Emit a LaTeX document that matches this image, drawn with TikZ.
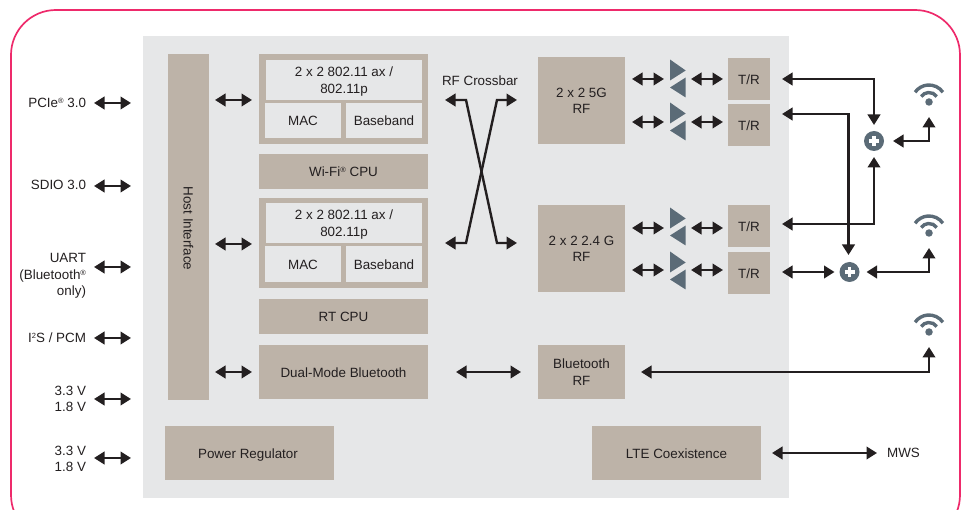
\documentclass[tikz,border=0pt]{standalone}
\usepackage{fontspec}
\setmainfont{Liberation Sans}
\usetikzlibrary{arrows.meta,calc}
\definecolor{bggray}{HTML}{E6E7E8}
\definecolor{tan}{HTML}{BDB3A8}
\definecolor{slate}{HTML}{5B6B77}
\definecolor{ink}{HTML}{231F20}
\definecolor{pinkline}{HTML}{EE2A6B}
\newcommand{\bx}[7][tanbox]{\node[#1,minimum width={(#5-#3)*1pt},minimum height={(#6-#4)*1pt}] (#2) at ({(#3+#5)/2},{(#4+#6)/2}) {\raisebox{-5.5pt}[0pt][0pt]{\begin{tabular}{@{}c@{}}#7\end{tabular}}};}
\newcommand{\mysup}[1]{\raisebox{4pt}{\fontsize{7.5}{8}\selectfont #1}}
\newcommand{\amp}[1]{%
  \fill[slate] (670,#1-19.5)--(685.7,#1-8.5)--(670,#1+1.5)--cycle;
  \fill[slate] (685.7,#1-1.5)--(670,#1+8.5)--(685.7,#1+18.5)--cycle;}
\newcommand{\wifi}[2]{%
  \node[dotnode] (#2) at (929,#1) {};
  \draw[wave] (929,#1) ++(-35:17) arc[start angle=-35,end angle=-145,radius=17];
  \draw[wave] (929,#1) ++(-35:9.5) arc[start angle=-35,end angle=-145,radius=9.5];}
\newcommand{\plusnode}[3]{%
  \node[sumnode] (#1) at (#2,#3) {};
  \draw[white,line width=3.6pt] (#2-5,#3)--(#2+5,#3) (#2,#3-5)--(#2,#3+5);}
\tikzset{
  base/.style={inner sep=0pt,outer sep=0pt,align=center,text=ink,font=\fontsize{13.4}{16.5}\selectfont},
  tanbox/.style={base,fill=tan},
  innerbox/.style={base,fill=bggray},
  lab/.style={base,anchor=east,align=right},
  plainlab/.style={base},
  dbl/.style={line width=2.4pt,draw=ink,{Triangle[length=10.5pt,width=12.5pt]}-{Triangle[length=10.5pt,width=12.5pt]}},
  wave/.style={draw=slate,line width=3.4pt},
  dotnode/.style={circle,fill=slate,minimum size=7.5pt,inner sep=0pt,outer sep=0pt},
  sumnode/.style={circle,fill=slate,minimum size=20pt,inner sep=0pt,outer sep=0pt},
}
\begin{document}
\begin{tikzpicture}[x=1pt,y=-1pt]
\useasboundingbox (0,0) rectangle (962,510);
\clip (0,0) rectangle (962,510);
\draw[pinkline,line width=1.7pt,rounded corners=45pt] (11,10) rectangle (960,540);
\fill[bggray] (143,36) rectangle (789,498);
% blocks
\node[tanbox,minimum width=41pt,minimum height=346pt] (hostif) at (188.5,227) {\rotatebox{-90}{\hspace{3pt}Host Interface}};
\bx{blockA}{259}{54}{428}{144}{}
\bx[innerbox]{phyA}{266}{60}{422}{100}{2 x 2 802.11 ax /\\802.11p}
\bx[innerbox]{macA}{265}{103}{341}{138}{MAC}
\bx[innerbox]{bbA}{346}{103}{422}{138}{Baseband}
\bx{wifi}{259}{154}{428}{189}{Wi-Fi\mysup{®} CPU}
\bx{blockB}{259}{198}{428}{288}{}
\bx[innerbox]{phyB}{266}{203}{422}{243}{2 x 2 802.11 ax /\\802.11p}
\bx[innerbox]{macB}{265}{246}{341}{282}{MAC}
\bx[innerbox]{bbB}{346}{246}{422}{282}{Baseband}
\bx{rt}{259}{299}{428}{334}{RT CPU}
\bx{dual}{259}{345}{428}{399}{Dual-Mode Bluetooth}
\bx{power}{165}{426}{334}{480}{\hspace{-3pt}Power Regulator}
\bx{rfA}{538}{57}{625}{144}{2 x 2 5G\\RF}
\bx{rfB}{538}{205}{625}{292}{2 x 2 2.4 G\\RF}
\bx{rfC}{538}{345}{625}{399}{Bluetooth\\RF}
\bx{lte}{592}{426}{761}{480}{LTE Coexistence}
\bx{trA}{728}{58}{770}{100}{T/R}
\bx{trB}{728}{104}{770}{146}{T/R}
\bx{trC}{728}{205}{770}{247}{T/R}
\bx{trD}{728}{252}{770}{294}{T/R}
% amplifiers
\amp{79}\amp{122}\amp{227}\amp{271}
% labels
\node[lab] (lpcie) at (86,103) {PCIe\mysup{®} 3.0};
\node[lab] (lsdio) at (86,185) {SDIO 3.0};
\node[lab] (luart) at (86,276) {UART\\(Bluetooth\mysup{®}\\only)};
\node[lab] (li2s) at (86,338) {I\mysup{2}S / PCM};
\node[lab] (lva) at (86,399) {3.3 V\\1.8 V};
\node[lab] (lvb) at (86,459) {3.3 V\\1.8 V};
\node[plainlab] (xbar) at (480,81) {RF Crossbar};
\node[plainlab] (mws) at (903.5,453) {MWS};
% icons
\wifi{102}{wa}\wifi{233}{wb}\wifi{332}{wc}
\plusnode{sumA}{874}{141}
\plusnode{sumB}{849.5}{272}
% left connectors
\foreach \n/\y in {pcie/103,sdio/186,uart/267,i2s/338,va/399,vb/458}{
  \coordinate (\n l) at (94,\y);
  \coordinate (\n r) at (131,\y);
  \draw[dbl] (\n l) -- (\n r);
}
% host to blocks
\foreach \n/\y in {a/100,b/244,c/372}{
  \coordinate (h\n l) at (215,\y);
  \coordinate (h\n r) at (252,\y);
  \draw[dbl] (h\n l) -- (h\n r);
}
% crossbar
\coordinate (xal) at (445,100); \coordinate (xbl) at (445,243);
\coordinate (xar) at (517,100); \coordinate (xbr) at (517,243);
\draw[dbl] (xal) -- (466,100) -- (497,243) -- (xbr);
\draw[dbl] (xbl) -- (466,243) -- (497,100) -- (xar);
% rf to amps to t/r
\foreach \n/\y in {a/79,b/122,c/228,d/270}{
  \coordinate (p\n l) at (632,\y); \coordinate (p\n r) at (664,\y);
  \coordinate (q\n l) at (691,\y); \coordinate (q\n r) at (723,\y);
  \draw[dbl] (p\n l) -- (p\n r);
  \draw[dbl] (q\n l) -- (q\n r);
}
% T/R to combiners
\coordinate (ta) at (782,79); \coordinate (tb) at (782,114);
\coordinate (tc) at (782,224); \coordinate (td) at (782,272);
\draw[dbl] (ta) -- (874,79) -- ([yshift=6pt]sumA.north);
\draw[dbl] (tb) -- (848.5,114) -- (848.5,255);
\draw[dbl] (tc) -- (874,224) -- ([yshift=-6pt]sumA.south);
\draw[dbl] (td) -- ([xshift=-5pt]sumB.west);
% combiners to antennas
\coordinate (wat) at (929,117); \coordinate (wbt) at (929,248); \coordinate (wct) at (929,347);
\draw[dbl] ([xshift=9pt]sumA.east) -- (wat |- sumA) -- (wat);
\draw[dbl] ([xshift=7pt]sumB.east) -- (wbt |- sumB) -- (wbt);
% bluetooth
\coordinate (bl) at (456,372); \coordinate (br) at (521,372);
\draw[dbl] (bl) -- (br);
\coordinate (rfCa) at (641,372);
\draw[dbl] (rfCa) -- (wct |- rfCa) -- (wct);
% LTE
\coordinate (ll) at (772,453); \coordinate (lr) at (877,453);
\draw[dbl] (ll) -- (lr);
\end{tikzpicture}
\end{document}
